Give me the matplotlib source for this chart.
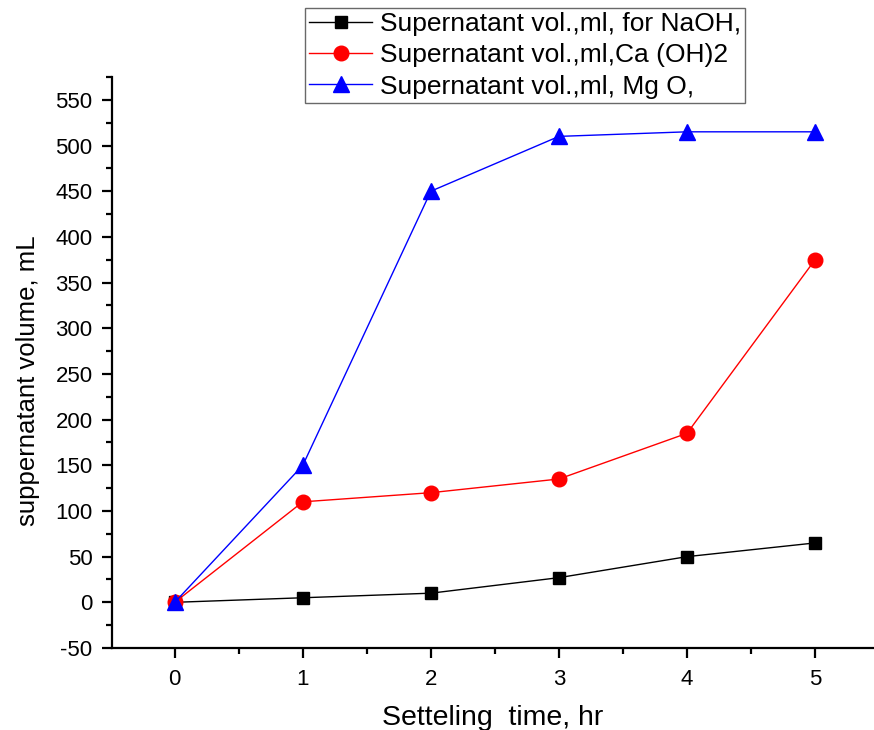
import matplotlib
matplotlib.use('Agg')
import matplotlib.pyplot as plt
from matplotlib.ticker import MultipleLocator

plt.rcParams['font.family'] = ['Liberation Sans', 'DejaVu Sans']
plt.rcParams['axes.unicode_minus'] = False

time_hr = [0, 1, 2, 3, 4, 5]
naoh = [0, 5, 10, 27, 50, 65]
caoh2 = [0, 110, 120, 135, 185, 375]
mgo = [0, 150, 450, 510, 515, 515]

labels = ['Supernatant vol.,ml, for NaOH,',
          'Supernatant vol.,ml,Ca (OH)2',
          'Supernatant vol.,ml, Mg O,']

fig = plt.figure(figsize=(8.74, 7.30), dpi=100)
ax = fig.add_axes([112 / 874, 82 / 730, 1 - 112 / 874, (648 - 77) / 730])

ax.plot(time_hr, naoh, color='black', lw=1, marker='s', ms=9, label=labels[0])
ax.plot(time_hr, caoh2, color='red', lw=1, marker='o', ms=10.5, label=labels[1])
ax.plot(time_hr, mgo, color='blue', lw=1, marker='^', ms=12, label=labels[2])

ax.set_xlim(-0.49, 5.46)
ax.set_ylim(-50, 575)
ax.xaxis.set_major_locator(MultipleLocator(1))
ax.xaxis.set_minor_locator(MultipleLocator(0.5))
ax.yaxis.set_minor_locator(MultipleLocator(25))
ax.set_yticks(range(-50, 551, 50))

for s in ['top', 'right']:
    ax.spines[s].set_visible(False)
for s in ['left', 'bottom']:
    ax.spines[s].set_linewidth(1.6)

ax.tick_params(which='major', direction='out', length=7, width=1.6, labelsize=16)
ax.tick_params(which='minor', direction='out', length=4, width=1.6)
ax.tick_params(axis='x', pad=8)
ax.tick_params(axis='y', pad=7)

ax.set_xlabel('Setteling  time, hr', fontsize=20.5, labelpad=11)
ax.set_ylabel('suppernatant volume, mL', fontsize=18.5)
ax.yaxis.set_label_coords(-0.0945, 0.4676)

leg = ax.legend(loc='upper left', bbox_to_anchor=(305 / 874, 1 - 8 / 730),
                bbox_transform=fig.transFigure, borderaxespad=0,
                fontsize=19, frameon=True, fancybox=False, handlelength=2.4,
                handletextpad=0.3, labelspacing=0.28, borderpad=0.15)
leg.get_frame().set_edgecolor('#444444')
leg.get_frame().set_linewidth(1.0)

fig.savefig('out.png', dpi=100)
